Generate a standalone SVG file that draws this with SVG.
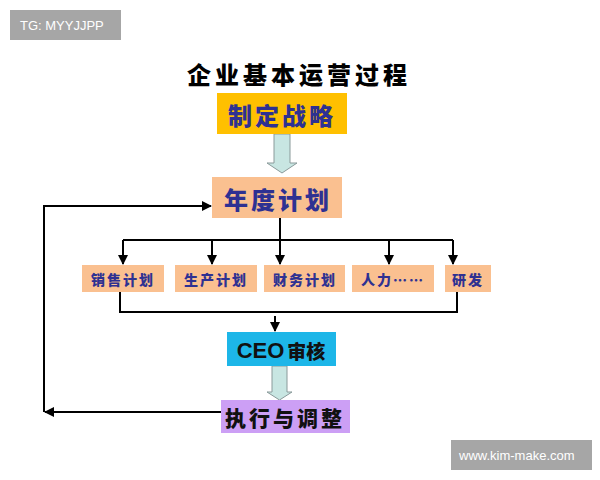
<svg xmlns="http://www.w3.org/2000/svg" width="600" height="480" viewBox="0 0 600 480">
<defs>
<style>
.cjk{font-family:"Noto Sans CJK SC",sans-serif;font-weight:900;text-anchor:middle;dominant-baseline:central}
.blue{fill:#2E3192}
.ln{stroke:#000;stroke-width:2;fill:none}
.big{fill:#C8E6E2;stroke:#8a9a9a;stroke-width:1}
.wm{fill:#A6A6A6}
.wt{font-family:"Liberation Sans",sans-serif;fill:#fff;font-size:13px;dominant-baseline:central}
</style>
<marker id="ah" viewBox="0 0 10 10" refX="9" refY="5" markerWidth="5" markerHeight="5" orient="auto"><path d="M0,0L10,5L0,10z" fill="#000"/></marker>
</defs>
<rect width="600" height="480" fill="#fff"/>
<g id="wm1"><rect class="wm" x="10" y="10" width="111" height="30"/><text class="wt" x="20" y="25">TG: MYYJJPP</text></g>
<g id="wm2"><rect class="wm" x="451" y="440" width="141" height="30"/><text class="wt" x="459" y="455">www.kim-make.com</text></g>
<text class="cjk" x="299" y="73" font-size="24" letter-spacing="4">企业基本运营过程</text>
<g id="connectors">
<path class="big" d="M274,134H290V163H297L282,173L267,163H274Z"/>
<path class="big" d="M272,366H287V392H292L279.5,400L267,392H272Z"/>
<path class="ln" d="M280,218V240M123,240H453"/>
<path class="ln" marker-end="url(#ah)" d="M123,240V264"/>
<path class="ln" marker-end="url(#ah)" d="M212,240V264"/>
<path class="ln" marker-end="url(#ah)" d="M280,240V264"/>
<path class="ln" marker-end="url(#ah)" d="M389,240V264"/>
<path class="ln" marker-end="url(#ah)" d="M453,240V264"/>
<path class="ln" d="M120,292V312H457V292"/>
<path class="ln" marker-end="url(#ah)" d="M275,316V331"/>
<path class="ln" marker-end="url(#ah)" d="M221,412H45"/>
<path class="ln" marker-end="url(#ah)" d="M44,412V206H211"/>
</g>
<g id="strategy"><rect x="217" y="93" width="130" height="41" fill="#FFC000"/><text class="cjk blue" x="282" y="114" font-size="24" letter-spacing="3">制定战略</text></g>
<g id="annual"><rect x="212" y="177" width="130" height="41" fill="#FAC090"/><text class="cjk blue" x="278" y="198" font-size="24" letter-spacing="3">年度计划</text></g>
<g id="sales"><rect x="82" y="265" width="82" height="27" fill="#FAC090"/><text class="cjk blue" x="123" y="279" font-size="14" letter-spacing="2">销售计划</text></g>
<g id="prod"><rect x="175" y="265" width="82" height="27" fill="#FAC090"/><text class="cjk blue" x="216" y="279" font-size="14" letter-spacing="2">生产计划</text></g>
<g id="fin"><rect x="264" y="265" width="81" height="27" fill="#FAC090"/><text class="cjk blue" x="305" y="279" font-size="14" letter-spacing="2">财务计划</text></g>
<g id="hr"><rect x="352" y="265" width="82" height="27" fill="#FAC090"/><text class="cjk blue" x="393" y="279" font-size="14" letter-spacing="2">人力……</text></g>
<g id="rd"><rect x="445" y="265" width="46" height="27" fill="#FAC090"/><text class="cjk blue" x="468" y="279" font-size="14" letter-spacing="2">研发</text></g>
<g id="ceo"><rect x="227" y="332" width="109" height="34" fill="#1DB6E8"/><text x="281" y="350" font-size="22" dominant-baseline="central" text-anchor="middle" fill="#111"><tspan font-family="Liberation Sans,sans-serif" font-weight="bold">CEO</tspan><tspan font-family="Noto Sans CJK SC,sans-serif" font-weight="900" font-size="19" dx="3">审核</tspan></text></g>
<g id="exec"><rect x="221" y="400" width="129" height="33" fill="#CC9FF5"/><text class="cjk" x="285" y="417" font-size="21" fill="#111" letter-spacing="3">执行与调整</text></g>
</svg>
